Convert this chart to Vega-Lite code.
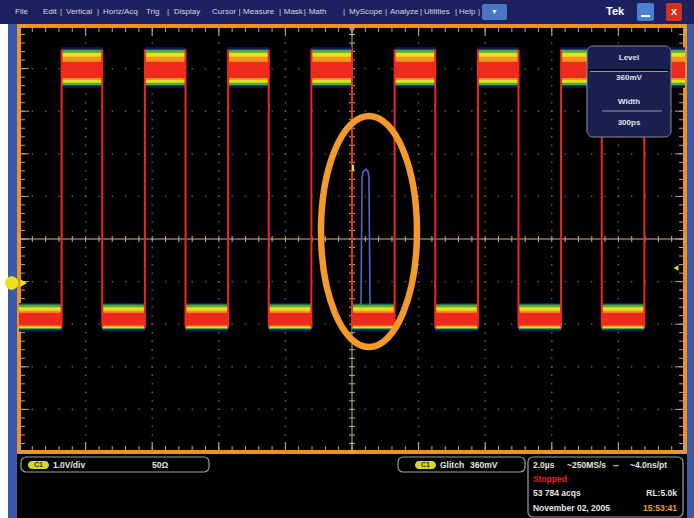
{
 "$schema": "https://vega.github.io/schema/vega-lite/v6.json",
 "width": 666,
 "height": 426,
 "autosize": "none",
 "padding": {"left": 19, "top": 26, "right": 9, "bottom": 66},
 "background": "#000000",
 "config": {
  "view": {"fill": "#000000", "stroke": "#f0921e", "strokeWidth": 4},
  "axis": {"disable": true},
  "legend": {"disable": true},
  "text": {"font": "Liberation Sans"}
 },
 "datasets": {
  "vgrid": [{"t": -8}, {"t": -6}, {"t": -4}, {"t": -2}, {"t": 2}, {"t": 4}, {"t": 6}, {"t": 8}],
  "hgrid": [{"v": -4}, {"v": -3}, {"v": -2}, {"v": -1}, {"v": 1}, {"v": 2}, {"v": 3}, {"v": 4}],
  "xminor": [{"t":-10},{"t":-9.6},{"t":-9.2},{"t":-8.8},{"t":-8.4},{"t":-8},{"t":-7.6},{"t":-7.2},{"t":-6.8},{"t":-6.4},{"t":-6},{"t":-5.6},{"t":-5.2},{"t":-4.8},{"t":-4.4},{"t":-4},{"t":-3.6},{"t":-3.2},{"t":-2.8},{"t":-2.4},{"t":-2},{"t":-1.6},{"t":-1.2},{"t":-0.8},{"t":-0.4},{"t":0},{"t":0.4},{"t":0.8},{"t":1.2},{"t":1.6},{"t":2},{"t":2.4},{"t":2.8},{"t":3.2},{"t":3.6},{"t":4},{"t":4.4},{"t":4.8},{"t":5.2},{"t":5.6},{"t":6},{"t":6.4},{"t":6.8},{"t":7.2},{"t":7.6},{"t":8},{"t":8.4},{"t":8.8},{"t":9.2},{"t":9.6},{"t":10}],
  "xmajor": [{"t":-10},{"t":-8},{"t":-6},{"t":-4},{"t":-2},{"t":0},{"t":2},{"t":4},{"t":6},{"t":8},{"t":10}],
  "yminor": [{"v":-5},{"v":-4.8},{"v":-4.6},{"v":-4.4},{"v":-4.2},{"v":-4},{"v":-3.8},{"v":-3.6},{"v":-3.4},{"v":-3.2},{"v":-3},{"v":-2.8},{"v":-2.6},{"v":-2.4},{"v":-2.2},{"v":-2},{"v":-1.8},{"v":-1.6},{"v":-1.4},{"v":-1.2},{"v":-1},{"v":-0.8},{"v":-0.6},{"v":-0.4},{"v":-0.2},{"v":0},{"v":0.2},{"v":0.4},{"v":0.6},{"v":0.8},{"v":1},{"v":1.2},{"v":1.4},{"v":1.6},{"v":1.8},{"v":2},{"v":2.2},{"v":2.4},{"v":2.6},{"v":2.8},{"v":3},{"v":3.2},{"v":3.4},{"v":3.6},{"v":3.8},{"v":4},{"v":4.2},{"v":4.4},{"v":4.6},{"v":4.8},{"v":5}],
  "ymajor": [{"v":-5},{"v":-4},{"v":-3},{"v":-2},{"v":-1},{"v":0},{"v":1},{"v":2},{"v":3},{"v":4},{"v":5}],
  "high": [{"t1":-8.72,"t2":-7.5},{"t1":-6.22,"t2":-5.0},{"t1":-3.72,"t2":-2.5},{"t1":-1.22,"t2":0.0},{"t1":1.28,"t2":2.5},{"t1":3.78,"t2":5.0},{"t1":6.28,"t2":7.5},{"t1":8.78,"t2":10}],
  "low": [{"t1":-10,"t2":-8.72},{"t1":-7.5,"t2":-6.22},{"t1":-5.0,"t2":-3.72},{"t1":-2.5,"t2":-1.22},{"t1":0.0,"t2":1.28},{"t1":2.5,"t2":3.78},{"t1":5.0,"t2":6.28},{"t1":7.5,"t2":8.78}],
  "edges": [{"t":-8.72},{"t":-7.5},{"t":-6.22},{"t":-5.0},{"t":-3.72},{"t":-2.5},{"t":-1.22},{"t":0.0},{"t":1.28},{"t":2.5},{"t":3.78},{"t":5.0},{"t":6.28},{"t":7.5},{"t":8.78}],
  "glitch": [{"t":0.27,"v":-1.55},{"t":0.3,"v":1.43},{"t":0.33,"v":1.58},{"t":0.42,"v":1.64},{"t":0.48,"v":1.58},{"t":0.51,"v":1.45},{"t":0.54,"v":-1.55}],
  "menu": [{"label":"File","t":-10.12},{"label":"Edit","t":-9.279},{"label":"|","t":-8.769},{"label":"Vertical","t":-8.589},{"label":"|","t":-7.658},{"label":"Horiz/Acq","t":-7.477},{"label":"Trig","t":-6.186},{"label":"|","t":-5.556},{"label":"Display","t":-5.345},{"label":"Cursor","t":-4.204},{"label":"|","t":-3.41},{"label":"Measure","t":-3.27},{"label":"|","t":-2.19},{"label":"Mask","t":-2.05},{"label":"|","t":-1.45},{"label":"Math","t":-1.3},{"label":"|","t":-0.27},{"label":"MyScope","t":-0.09},{"label":"|","t":0.991},{"label":"Analyze","t":1.141},{"label":"|","t":2.042},{"label":"Utilities","t":2.162},{"label":"|","t":3.093},{"label":"Help","t":3.213},{"label":"|","t":3.784}],
  "status": [{"label":"1.0V/div","t":-8.979,"v":-5.305},{"label":"50Ω","t":-6.006,"v":-5.305},{"label":"Glitch","t":2.643,"v":-5.305},{"label":"360mV","t":3.544,"v":-5.305},{"label":"2.0µs","t":5.435,"v":-5.305},{"label":"~250MS/s","t":6.456,"v":-5.305},{"label":"--","t":7.838,"v":-5.305},{"label":"~4.0ns/pt","t":8.348,"v":-5.305},{"label":"53 784 acqs","t":5.435,"v":-5.962},{"label":"November 02, 2005","t":5.435,"v":-6.315}],
  "level": [{"label":"Level","v":4.249},{"label":"360mV","v":3.779},{"label":"Width","v":3.216},{"label":"300ps","v":2.723}]
 },
 "layer": [
  {"data": {"name": "vgrid"}, "mark": {"type": "rule", "color": "#7a7a7a", "strokeWidth": 1.3, "strokeDash": [1.3, 7.22], "strokeDashOffset": 0.65},
   "encoding": {"x": {"field": "t", "type": "quantitative", "scale": {"domain": [-10, 10], "nice": false, "zero": false}},
                "y": {"datum": -5, "scale": {"domain": [-5, 5], "nice": false, "zero": false}}, "y2": {"datum": 5}}},
  {"data": {"name": "hgrid"}, "mark": {"type": "rule", "color": "#7a7a7a", "strokeWidth": 1.3, "strokeDash": [1.3, 12.02], "strokeDashOffset": 0.65},
   "encoding": {"y": {"field": "v", "type": "quantitative"}, "x": {"datum": -10}, "x2": {"datum": 10}}},
  {"data": {"values": [{}]}, "mark": {"type": "rule", "color": "#c8b48c", "strokeWidth": 1},
   "encoding": {"x": {"datum": 0}, "y": {"datum": -5}, "y2": {"datum": 5}}},
  {"data": {"values": [{}]}, "mark": {"type": "rule", "color": "#c8b48c", "strokeWidth": 1},
   "encoding": {"y": {"datum": 0}, "x": {"datum": -10}, "x2": {"datum": 10}}},
  {"data": {"name": "xminor"}, "mark": {"type": "tick", "orient": "vertical", "size": 6, "thickness": 1, "color": "#c8b48c", "opacity": 1},
   "encoding": {"x": {"field": "t", "type": "quantitative"}, "y": {"datum": 0}}},
  {"data": {"name": "yminor"}, "mark": {"type": "tick", "orient": "horizontal", "size": 6, "thickness": 1, "color": "#c8b48c", "opacity": 1},
   "encoding": {"y": {"field": "v", "type": "quantitative"}, "x": {"datum": 0}}},
  {"data": {"name": "xminor"}, "mark": {"type": "tick", "orient": "vertical", "size": 5, "thickness": 1, "color": "#b4a890", "opacity": 1, "yOffset": 3.5},
   "encoding": {"x": {"field": "t", "type": "quantitative"}, "y": {"datum": 5}}},
  {"data": {"name": "xminor"}, "mark": {"type": "tick", "orient": "vertical", "size": 5, "thickness": 1, "color": "#b4a890", "opacity": 1, "yOffset": -3.5},
   "encoding": {"x": {"field": "t", "type": "quantitative"}, "y": {"datum": -5}}},
  {"data": {"name": "xmajor"}, "mark": {"type": "tick", "orient": "vertical", "size": 9, "thickness": 1, "color": "#b4a890", "opacity": 1, "yOffset": 5.5},
   "encoding": {"x": {"field": "t", "type": "quantitative"}, "y": {"datum": 5}}},
  {"data": {"name": "xmajor"}, "mark": {"type": "tick", "orient": "vertical", "size": 9, "thickness": 1, "color": "#b4a890", "opacity": 1, "yOffset": -5.5},
   "encoding": {"x": {"field": "t", "type": "quantitative"}, "y": {"datum": -5}}},
  {"data": {"name": "yminor"}, "mark": {"type": "tick", "orient": "horizontal", "size": 5, "thickness": 1, "color": "#b4a890", "opacity": 1, "xOffset": 3.5},
   "encoding": {"y": {"field": "v", "type": "quantitative"}, "x": {"datum": -10}}},
  {"data": {"name": "yminor"}, "mark": {"type": "tick", "orient": "horizontal", "size": 5, "thickness": 1, "color": "#b4a890", "opacity": 1, "xOffset": -3.5},
   "encoding": {"y": {"field": "v", "type": "quantitative"}, "x": {"datum": 10}}},
  {"data": {"name": "ymajor"}, "mark": {"type": "tick", "orient": "horizontal", "size": 9, "thickness": 1, "color": "#b4a890", "opacity": 1, "xOffset": 5.5},
   "encoding": {"y": {"field": "v", "type": "quantitative"}, "x": {"datum": -10}}},
  {"data": {"name": "ymajor"}, "mark": {"type": "tick", "orient": "horizontal", "size": 9, "thickness": 1, "color": "#b4a890", "opacity": 1, "xOffset": -5.5},
   "encoding": {"y": {"field": "v", "type": "quantitative"}, "x": {"datum": 10}}},

  {"data": {"name": "high"}, "mark": {"type": "rect", "color": "#101c5c"},
   "encoding": {"x": {"field": "t1", "type": "quantitative"}, "x2": {"field": "t2"}, "y": {"datum": 4.5}, "y2": {"datum": 3.55}}},
  {"data": {"name": "high"}, "mark": {"type": "rect", "color": "#4caf3a"},
   "encoding": {"x": {"field": "t1", "type": "quantitative"}, "x2": {"field": "t2"}, "y": {"datum": 4.44}, "y2": {"datum": 3.61}}},
  {"data": {"name": "high"}, "mark": {"type": "rect", "color": "#e6e01c"},
   "encoding": {"x": {"field": "t1", "type": "quantitative"}, "x2": {"field": "t2"}, "y": {"datum": 4.37}, "y2": {"datum": 3.67}}},
  {"data": {"name": "high"}, "mark": {"type": "rect", "color": "#f7961e"},
   "encoding": {"x": {"field": "t1", "type": "quantitative"}, "x2": {"field": "t2"}, "y": {"datum": 4.28}, "y2": {"datum": 3.73}}},
  {"data": {"name": "high"}, "mark": {"type": "rect", "color": "#ee2a1c"},
   "encoding": {"x": {"field": "t1", "type": "quantitative"}, "x2": {"field": "t2"}, "y": {"datum": 4.16}, "y2": {"datum": 3.78}}},
  {"data": {"name": "low"}, "mark": {"type": "rect", "color": "#101c5c"},
   "encoding": {"x": {"field": "t1", "type": "quantitative"}, "x2": {"field": "t2"}, "y": {"datum": -1.5}, "y2": {"datum": -2.17}}},
  {"data": {"name": "low"}, "mark": {"type": "rect", "color": "#4caf3a"},
   "encoding": {"x": {"field": "t1", "type": "quantitative"}, "x2": {"field": "t2"}, "y": {"datum": -1.54}, "y2": {"datum": -2.12}}},
  {"data": {"name": "low"}, "mark": {"type": "rect", "color": "#e6e01c"},
   "encoding": {"x": {"field": "t1", "type": "quantitative"}, "x2": {"field": "t2"}, "y": {"datum": -1.6}, "y2": {"datum": -2.09}}},
  {"data": {"name": "low"}, "mark": {"type": "rect", "color": "#f7961e"},
   "encoding": {"x": {"field": "t1", "type": "quantitative"}, "x2": {"field": "t2"}, "y": {"datum": -1.68}, "y2": {"datum": -2.06}}},
  {"data": {"name": "low"}, "mark": {"type": "rect", "color": "#ee2a1c"},
   "encoding": {"x": {"field": "t1", "type": "quantitative"}, "x2": {"field": "t2"}, "y": {"datum": -1.73}, "y2": {"datum": -2.03}}},
  {"data": {"name": "edges"}, "mark": {"type": "rule", "color": "#ee2a1c", "strokeWidth": 2},
   "encoding": {"x": {"field": "t", "type": "quantitative"}, "y": {"datum": -2.08}, "y2": {"datum": 4.45}}},
  {"data": {"name": "glitch"}, "mark": {"type": "line", "color": "#5b63c8", "strokeWidth": 1.6},
   "encoding": {"x": {"field": "t", "type": "quantitative"}, "y": {"field": "v", "type": "quantitative"}}},
  {"data": {"values": [{}]}, "mark": {"type": "tick", "orient": "vertical", "size": 6, "thickness": 2, "color": "#e6e01c", "opacity": 1},
   "encoding": {"x": {"datum": 0.03}, "y": {"datum": 1.67}}},
  {"data": {"values": [{}]}, "mark": {"type": "point", "shape": "M0,-1C0.2295,-1 0.4156,-0.5523 0.4156,0C0.4156,0.5523 0.2295,1 0,1C-0.2295,1 -0.4156,0.5523 -0.4156,0C-0.4156,-0.5523 -0.2295,-1 0,-1Z", "filled": false, "stroke": "#f59a2a", "strokeWidth": 6.5, "size": 53361, "opacity": 1},
   "encoding": {"x": {"datum": 0.51}, "y": {"datum": 0.176}}},

  {"data": {"values": [{}]}, "mark": {"type": "rect", "fill": "#1a2050", "stroke": "#8c8ca0", "strokeWidth": 1, "cornerRadius": 6},
   "encoding": {"x": {"datum": 7.057}, "x2": {"datum": 9.58}, "y": {"datum": 4.531}, "y2": {"datum": 2.394}}},
  {"data": {"values": [{}]}, "mark": {"type": "rule", "color": "#05070f", "strokeWidth": 2},
   "encoding": {"x": {"datum": 7.1}, "x2": {"datum": 9.54}, "y": {"datum": 3.967}}},
  {"data": {"values": [{}]}, "mark": {"type": "rule", "color": "#9a9aae", "strokeWidth": 1},
   "encoding": {"x": {"datum": 7.147}, "x2": {"datum": 9.489}, "y": {"datum": 3.932}}},
  {"data": {"values": [{}]}, "mark": {"type": "rule", "color": "#9a9aae", "strokeWidth": 1},
   "encoding": {"x": {"datum": 7.508}, "x2": {"datum": 9.309}, "y": {"datum": 3.005}}},
  {"data": {"name": "level"}, "mark": {"type": "text", "align": "center", "baseline": "middle", "fontSize": 8, "fontWeight": "bold", "color": "#e2e2ee"},
   "encoding": {"x": {"datum": 8.318}, "y": {"field": "v", "type": "quantitative"}, "text": {"field": "label"}}},

  {"data": {"values": [{}]}, "mark": {"type": "point", "shape": "triangle-down", "filled": true, "color": "#f07878", "size": 50, "opacity": 1},
   "encoding": {"x": {"datum": 0}, "y": {"datum": 4.906}}},
  {"data": {"values": [{}]}, "mark": {"type": "point", "shape": "triangle-left", "filled": true, "color": "#e6e01c", "size": 30, "opacity": 1},
   "encoding": {"x": {"datum": 9.73}, "y": {"datum": -0.681}}},

  {"data": {"values": [{}]}, "mark": {"type": "rect", "color": "#1e2160"},
   "encoding": {"x": {"datum": -10.7}, "x2": {"datum": 10.4}, "y": {"datum": 5.047}, "y2": {"datum": 5.7}}},
  {"data": {"values": [{}]}, "mark": {"type": "rect", "color": "#ffffff"},
   "encoding": {"x": {"datum": -10.7}, "x2": {"datum": -10.33}, "y": {"datum": -6.7}, "y2": {"datum": 5.047}}},
  {"data": {"values": [{}]}, "mark": {"type": "rect", "color": "#3a5aa8"},
   "encoding": {"x": {"datum": -10.33}, "x2": {"datum": -10.06}, "y": {"datum": -6.7}, "y2": {"datum": 5.047}}},
  {"data": {"values": [{}]}, "mark": {"type": "rect", "color": "#3a5aa8"},
   "encoding": {"x": {"datum": 10.06}, "x2": {"datum": 10.4}, "y": {"datum": -6.7}, "y2": {"datum": 5.047}}},
  {"data": {"values": [{}]}, "mark": {"type": "point", "shape": "circle", "filled": true, "color": "#ece21e", "size": 177, "opacity": 1},
   "encoding": {"x": {"datum": -10.22}, "y": {"datum": -1.033}}},
  {"data": {"values": [{}]}, "mark": {"type": "point", "shape": "triangle-right", "filled": true, "color": "#ece21e", "size": 60, "opacity": 1},
   "encoding": {"x": {"datum": -9.86}, "y": {"datum": -1.033}}},

  {"data": {"name": "menu"}, "mark": {"type": "text", "align": "left", "baseline": "middle", "fontSize": 8, "color": "#d4d4e4"},
   "encoding": {"x": {"field": "t", "type": "quantitative"}, "y": {"datum": 5.329}, "text": {"field": "label"}}},
  {"data": {"values": [{}]}, "mark": {"type": "rect", "color": "#4a78c0", "cornerRadius": 2},
   "encoding": {"x": {"datum": 3.904}, "x2": {"datum": 4.655}, "y": {"datum": 5.516}, "y2": {"datum": 5.141}}},
  {"data": {"values": [{}]}, "mark": {"type": "point", "shape": "triangle-down", "filled": true, "color": "#ffffff", "size": 20, "opacity": 1},
   "encoding": {"x": {"datum": 4.279}, "y": {"datum": 5.329}}},
  {"data": {"values": [{}]}, "mark": {"type": "text", "text": "Tek", "align": "left", "baseline": "middle", "fontSize": 11, "fontWeight": "bold", "color": "#ffffff"},
   "encoding": {"x": {"datum": 7.628}, "y": {"datum": 5.329}}},
  {"data": {"values": [{}]}, "mark": {"type": "rect", "color": "#4a82d0", "cornerRadius": 2},
   "encoding": {"x": {"datum": 8.559}, "x2": {"datum": 9.069}, "y": {"datum": 5.54}, "y2": {"datum": 5.117}}},
  {"data": {"values": [{}]}, "mark": {"type": "rule", "color": "#ffffff", "strokeWidth": 2},
   "encoding": {"x": {"datum": 8.68}, "x2": {"datum": 8.95}, "y": {"datum": 5.235}}},
  {"data": {"values": [{}]}, "mark": {"type": "rect", "color": "#d83020", "cornerRadius": 2},
   "encoding": {"x": {"datum": 9.429}, "x2": {"datum": 9.91}, "y": {"datum": 5.54}, "y2": {"datum": 5.117}}},
  {"data": {"values": [{}]}, "mark": {"type": "text", "text": "X", "align": "center", "baseline": "middle", "fontSize": 9, "fontWeight": "bold", "color": "#ffffff"},
   "encoding": {"x": {"datum": 9.67}, "y": {"datum": 5.329}}},

  {"data": {"values": [{}]}, "mark": {"type": "rect", "fill": "#000000", "stroke": "#a0a0a0", "strokeWidth": 1.2, "cornerRadius": 5},
   "encoding": {"x": {"datum": -9.94}, "x2": {"datum": -4.294}, "y": {"datum": -5.117}, "y2": {"datum": -5.469}}},
  {"data": {"values": [{}]}, "mark": {"type": "rect", "fill": "#000000", "stroke": "#a0a0a0", "strokeWidth": 1.2, "cornerRadius": 5},
   "encoding": {"x": {"datum": 1.381}, "x2": {"datum": 5.195}, "y": {"datum": -5.117}, "y2": {"datum": -5.469}}},
  {"data": {"values": [{}]}, "mark": {"type": "rect", "fill": "#000000", "stroke": "#a0a0a0", "strokeWidth": 1.2, "cornerRadius": 5},
   "encoding": {"x": {"datum": 5.285}, "x2": {"datum": 9.94}, "y": {"datum": -5.117}, "y2": {"datum": -6.526}}},
  {"data": {"values": [{}]}, "mark": {"type": "rect", "fill": "#d8d81c", "cornerRadius": 4},
   "encoding": {"x": {"datum": -9.73}, "x2": {"datum": -9.099}, "y": {"datum": -5.211}, "y2": {"datum": -5.399}}},
  {"data": {"values": [{}]}, "mark": {"type": "rect", "fill": "#d8d81c", "cornerRadius": 4},
   "encoding": {"x": {"datum": 1.892}, "x2": {"datum": 2.523}, "y": {"datum": -5.211}, "y2": {"datum": -5.399}}},
  {"data": {"values": [{}]}, "mark": {"type": "text", "text": "C1", "align": "center", "baseline": "middle", "fontSize": 7, "fontWeight": "bold", "color": "#3a3a00"},
   "encoding": {"x": {"datum": -9.414}, "y": {"datum": -5.305}}},
  {"data": {"values": [{}]}, "mark": {"type": "text", "text": "C1", "align": "center", "baseline": "middle", "fontSize": 7, "fontWeight": "bold", "color": "#3a3a00"},
   "encoding": {"x": {"datum": 2.207}, "y": {"datum": -5.305}}},
  {"data": {"name": "status"}, "mark": {"type": "text", "align": "left", "baseline": "middle", "fontSize": 8.5, "fontWeight": "bold", "color": "#e6e6e6"},
   "encoding": {"x": {"field": "t", "type": "quantitative"}, "y": {"field": "v", "type": "quantitative"}, "text": {"field": "label"}}},
  {"data": {"values": [{}]}, "mark": {"type": "text", "text": "RL:5.0k", "align": "right", "baseline": "middle", "fontSize": 8.5, "fontWeight": "bold", "color": "#e6e6e6"},
   "encoding": {"x": {"datum": 9.76}, "y": {"datum": -5.962}}},
  {"data": {"values": [{}]}, "mark": {"type": "text", "text": "Stopped", "align": "left", "baseline": "middle", "fontSize": 8.5, "fontWeight": "bold", "color": "#e8241c"},
   "encoding": {"x": {"datum": 5.435}, "y": {"datum": -5.634}}},
  {"data": {"values": [{}]}, "mark": {"type": "text", "text": "15:53:41", "align": "right", "baseline": "middle", "fontSize": 8.5, "fontWeight": "bold", "color": "#f0a020"},
   "encoding": {"x": {"datum": 9.76}, "y": {"datum": -6.315}}}
 ]
}
